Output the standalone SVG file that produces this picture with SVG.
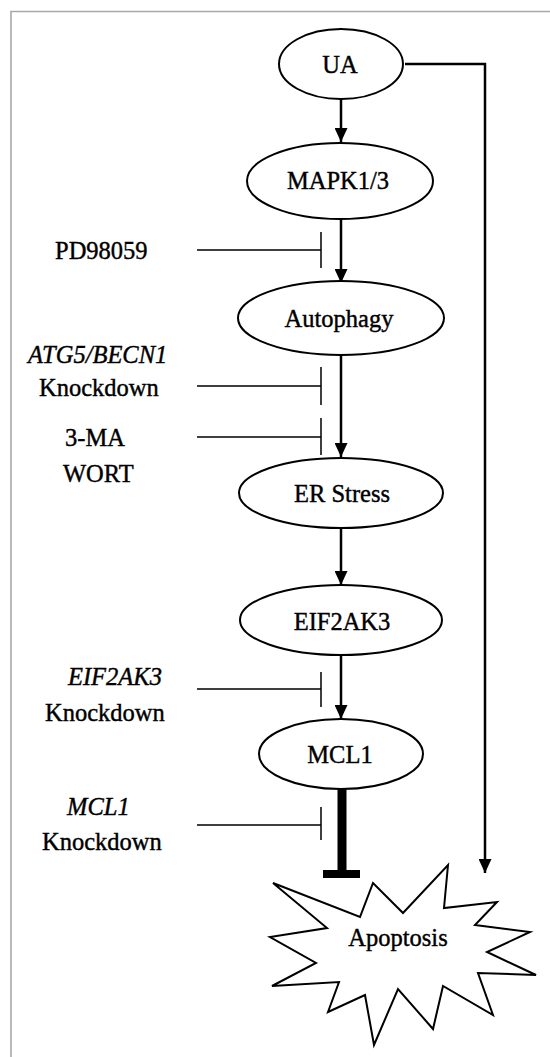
<svg xmlns="http://www.w3.org/2000/svg" width="550" height="1057" viewBox="0 0 550 1057">
<style>
.node{fill:#fff;stroke:#000;stroke-width:2}
text{font-family:'Liberation Serif',Tinos,'Times New Roman',Times,'DejaVu Serif',serif;font-size:24.5px;fill:#000;stroke:#000;stroke-width:0.4}
.ctr{text-anchor:middle}
.it{font-style:italic}
.act{stroke:#000;stroke-width:2.5;fill:none}
.inh{stroke:#000;stroke-width:1.5;fill:none}
</style>
<defs>
<marker id="arr" viewBox="0 0 14 13" refX="14" refY="6.5" markerWidth="14" markerHeight="13" markerUnits="userSpaceOnUse" orient="auto">
<path d="M0,0 L14,6.5 L0,13 z" fill="#000"/>
</marker>
</defs>
<rect width="550" height="1057" fill="#fff"/>
<path d="M11,1057 V11.5 H550" fill="none" stroke="#a8a8a8" stroke-width="1.6"/>

<g id="connectors">
<line class="act" x1="341" y1="99" x2="341" y2="142" marker-end="url(#arr)"/>
<line class="act" x1="341" y1="219" x2="341" y2="283" marker-end="url(#arr)"/>
<line class="act" x1="341" y1="355" x2="341" y2="457" marker-end="url(#arr)"/>
<line class="act" x1="341" y1="528" x2="341" y2="585" marker-end="url(#arr)"/>
<line class="act" x1="341" y1="655" x2="341" y2="719" marker-end="url(#arr)"/>
<polyline class="act" points="405,64 485,64 485,873" marker-end="url(#arr)"/>
<line x1="342" y1="789" x2="342" y2="871" stroke="#000" stroke-width="9"/>
<rect x="323" y="870" width="37" height="8" fill="#000"/>
<path class="inh" d="M197,250 H321 M321,232 V268"/>
<path class="inh" d="M197,386 H321 M321,367 V405"/>
<path class="inh" d="M197,437 H321 M321,418 V455"/>
<path class="inh" d="M197,689 H321 M321,672 V707"/>
<path class="inh" d="M197,825 H321 M321,807 V840"/>
</g>

<g id="ua"><ellipse class="node" cx="341" cy="64" rx="62" ry="35"/><text class="ctr" x="340" y="73">UA</text></g>
<g id="mapk"><ellipse class="node" cx="340" cy="181" rx="93" ry="38"/><text class="ctr" x="338" y="189">MAPK1/3</text></g>
<g id="autophagy"><ellipse class="node" cx="341" cy="318" rx="103" ry="37"/><text class="ctr" x="339" y="327">Autophagy</text></g>
<g id="erstress"><ellipse class="node" cx="341" cy="493" rx="102" ry="35"/><text class="ctr" x="342" y="502">ER Stress</text></g>
<g id="eif2ak3"><ellipse class="node" cx="341" cy="620" rx="101" ry="35"/><text class="ctr" x="342" y="630">EIF2AK3</text></g>
<g id="mcl1"><ellipse class="node" cx="341" cy="754" rx="82" ry="35"/><text class="ctr" x="340" y="763">MCL1</text></g>
<g id="apoptosis">
<polygon class="node" points="273,883 360,917 373,883 403,913 448,865 444,908 497,902 475,925 530,932 487,952 536,975 478,973 493,1015 443,986 433,1029 398,989 374,1045 365,995 328,1012 339,982 272,986 316,963 270,937 327,928"/>
<text class="ctr" x="398" y="946">Apoptosis</text>
</g>

<g id="pd98059"><text x="55" y="259">PD98059</text></g>
<g id="atg5"><text class="it" x="28" y="363">ATG5/BECN1</text><text x="39" y="396">Knockdown</text></g>
<g id="ma3"><text x="65" y="446">3-MA</text><text x="63" y="482">WORT</text></g>
<g id="eifkd"><text class="it" x="68" y="685">EIF2AK3</text><text x="45" y="721">Knockdown</text></g>
<g id="mclkd"><text class="it" x="67" y="815">MCL1</text><text x="42" y="850">Knockdown</text></g>
</svg>
